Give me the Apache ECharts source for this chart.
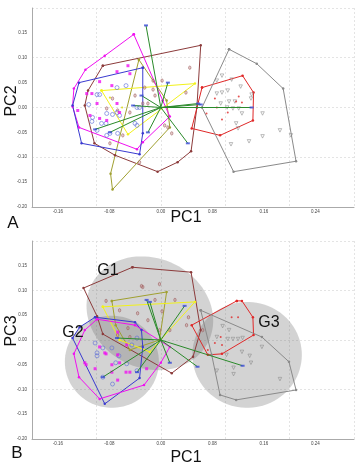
<!DOCTYPE html>
<html><head><meta charset="utf-8">
<script src="https://cdn.jsdelivr.net/npm/echarts@6/dist/echarts.min.js"></script>
<style>html,body{margin:0;padding:0;background:#fff}#c{width:360px;height:476px}</style>
</head><body><div id="c"></div>
<script>
// ---- tick labels ----
const xTicks = [-0.16, -0.08, 0, 0.08, 0.16, 0.24];
const yTicks = [-0.2, -0.15, -0.1, -0.05, 0, 0.05, 0.1, 0.15];
const origin = [0, 0];

// ---- Panel A (PC1 vs PC2): convex hulls ----
const hullA_magenta = [[-0.042,0.147],[0.003,0.014],[0.014,-0.018],[-0.028,-0.070],[-0.037,-0.084],[-0.127,-0.040],[-0.137,0.002],[-0.135,0.038],[-0.117,0.076],[-0.087,0.104]];
const hullA_blue = [[-0.028,0.080],[-0.127,0.050],[-0.137,0.004],[-0.123,-0.072],[-0.033,-0.094],[-0.028,-0.052]];
const hullA_brown = [[-0.090,0.084],[0.062,0.125],[0.056,0.000],[0.047,-0.088],[0.026,-0.110],[-0.005,-0.129],[-0.071,-0.096],[-0.103,-0.072],[-0.118,0.004],[-0.113,0.034]];
const hullA_olive = [[-0.034,0.096],[0.009,0.014],[0.014,-0.040],[-0.075,-0.165],[-0.078,-0.133]];
const hullA_yellow = [[-0.092,0.034],[0.053,0.048],[-0.051,-0.054]];
const hullA_red = [[0.064,0.040],[0.127,0.064],[0.144,0.030],[0.143,-0.026],[0.092,-0.056],[0.048,-0.042]];
const hullA_gray = [[0.106,0.117],[0.149,0.088],[0.190,0.038],[0.210,-0.108],[0.113,-0.129],[0.064,0.000]];

// ---- Panel A: samples ----
const ptsA_magenta = [[-0.068,0.072],[-0.051,0.084],[-0.048,0.068],[-0.095,0.052],[-0.076,0.044],[-0.115,0.028],[-0.107,0.028],[-0.099,0.008],[-0.068,0.008],[-0.129,-0.006],[-0.095,-0.022],[-0.084,-0.026],[-0.064,-0.010],[-0.110,-0.016]];
const ptsA_blue = [[-0.054,0.044],[-0.068,0.040],[-0.099,0.026],[-0.095,0.026],[-0.037,0.000],[-0.106,-0.020],[-0.107,-0.028],[-0.084,-0.012],[-0.075,-0.014],[-0.068,-0.010],[-0.064,-0.016],[-0.092,-0.032],[-0.085,-0.032],[-0.099,-0.046],[-0.079,-0.052],[-0.067,-0.052],[-0.084,-0.056],[-0.040,-0.032],[-0.037,-0.036],[-0.112,0.006],[-0.033,0.000]];
const ptsA_brown = [[0.002,0.054],[-0.012,0.054],[-0.025,0.040],[-0.012,0.036],[-0.075,0.018],[-0.084,-0.002],[-0.067,-0.006],[0.045,0.080],[0.039,0.030],[-0.028,0.008],[-0.020,0.008],[-0.048,-0.010],[-0.059,-0.056],[-0.079,-0.072],[0.011,-0.040],[0.017,-0.052],[0.006,-0.036],[-0.033,-0.110],[-0.009,0.024],[-0.040,0.024]];
const ptsA_gray = [[0.095,0.064],[0.110,0.056],[0.124,0.042],[0.104,0.034],[0.087,0.028],[0.095,0.030],[0.141,0.026],[0.140,0.018],[0.106,0.012],[0.115,0.012],[0.093,0.008],[0.103,0.000],[0.112,-0.002],[0.121,-0.002],[0.126,-0.012],[0.158,-0.012],[0.087,0.054],[0.117,-0.032],[0.120,-0.042],[0.109,-0.074],[0.137,-0.068],[0.158,-0.058],[0.185,-0.046],[0.202,-0.056]];
const ptsA_red = [[0.117,0.012],[0.126,0.010],[0.121,0.022],[0.087,0.000],[0.071,-0.012],[0.095,-0.024],[0.104,-0.010],[0.084,0.018]];
const ptsA_yellow = [[-0.079,0.020],[-0.060,0.000]];
const vecA = [[-0.023,0.165],[0.062,0.006],[0.141,0.000],[-0.102,-0.044],[-0.079,-0.050],[-0.020,-0.050],[0.042,-0.072],[0.058,0.008],[-0.043,0.004],[0.011,0.050],[-0.030,0.024]];

// ---- Panel B (PC1 vs PC3): group ellipses [cx, cy, rx, ry, tilt] ----
const groupNames = ['G1', 'G2', 'G3'];
const ellipseB = [[-0.017,0.054,0.101,0.111,25],[-0.076,-0.044,0.073,0.093,0],[0.134,-0.030,0.085,0.107,0]];
const hullB_brown = [[-0.044,0.147],[0.047,0.137],[0.062,0.020],[0.050,-0.034],[0.017,-0.067],[-0.090,0.012],[-0.099,0.048],[-0.120,0.105]];
const hullB_olive = [[-0.076,0.079],[0.009,0.097],[-0.002,0.000],[-0.048,-0.020],[-0.070,0.030]];
const hullB_yellow = [[-0.090,0.067],[0.053,0.077],[-0.017,-0.024],[-0.064,0.000]];
const hullB_blue = [[-0.102,0.046],[-0.040,0.036],[-0.030,0.020],[-0.028,-0.014],[-0.033,-0.077],[-0.087,-0.129],[-0.137,0.004],[-0.126,0.026]];
const hullB_magenta = [[-0.099,0.042],[-0.040,0.030],[0.014,-0.014],[0.000,-0.046],[-0.026,-0.091],[-0.095,-0.119],[-0.127,-0.075],[-0.135,-0.028],[-0.118,0.020]];
const hullB_red = [[0.118,0.079],[0.126,0.079],[0.143,0.046],[0.144,0.010],[0.095,-0.028],[0.073,-0.030],[0.048,0.030]];
const hullB_gray = [[0.062,0.060],[0.157,0.006],[0.199,-0.044],[0.210,-0.101],[0.117,-0.121],[0.092,-0.111],[0.079,-0.030]];

const ptsB_brown = [[-0.028,0.107],[-0.002,0.113],[-0.085,0.079],[-0.036,0.054],[0.002,0.058],[-0.030,0.109],[-0.020,0.040],[-0.002,0.020],[-0.051,0.024],[0.043,0.046],[0.040,0.030],[0.065,0.020],[-0.067,0.010],[-0.048,0.006],[0.014,0.020],[-0.009,0.081],[0.022,0.081],[-0.064,0.060]];
const ptsB_magenta = [[-0.118,-0.046],[-0.116,-0.050],[-0.102,-0.058],[-0.085,-0.028],[-0.076,-0.065],[-0.054,-0.065],[-0.048,-0.065],[-0.022,-0.058],[-0.095,-0.014],[-0.087,-0.026],[-0.067,-0.030],[-0.076,-0.050],[-0.064,-0.046],[-0.067,-0.081],[-0.053,-0.010],[-0.067,0.016]];
const ptsB_blue = [[-0.099,-0.026],[-0.099,-0.032],[-0.076,-0.016],[-0.065,-0.032],[-0.053,-0.048],[-0.090,-0.075],[-0.075,-0.089],[-0.037,-0.062],[-0.037,0.004],[-0.045,-0.010],[-0.090,-0.016],[-0.070,-0.046],[-0.102,-0.006]];
const ptsB_gray = [[0.096,0.028],[0.106,0.020],[0.087,0.006],[0.104,0.002],[0.112,0.002],[0.120,0.002],[0.127,0.004],[0.157,-0.014],[0.102,-0.030],[0.126,-0.024],[0.138,-0.032],[0.140,-0.046],[0.087,-0.062],[0.113,-0.056],[0.113,-0.069],[0.185,-0.079]];
const ptsB_red = [[0.110,0.046],[0.120,0.046],[0.093,0.006],[0.095,-0.010],[0.073,-0.020],[0.084,-0.006]];
const vecB = [[-0.090,-0.075],[-0.068,0.004],[-0.037,-0.065],[0.014,-0.046],[0.127,-0.052],[0.057,-0.054],[0.037,0.069],[-0.017,0.077],[-0.022,0.081]];

// ---- styles ----
const C = {magenta:'#f010f0', blue:'#3a3ad0', brown:'#8c3b3b', olive:'#a0a030', yellow:'#f2f21a', red:'#e02828', gray:'#8a8a8a', green:'#2a8a2a', vlabel:'#3a4ad8'};
const FONT = 'Liberation Sans, Arial, sans-serif';

function closed(a){ return a.concat([a[0]]); }
function hull(data, color, g){
  return {type:'line', xAxisIndex:g, yAxisIndex:g, data:closed(data), symbol:'circle', symbolSize:2.5,
    itemStyle:{color:color}, lineStyle:{color:color, width:1}, z:3, silent:true, animation:false};
}
function pts(data, g, kind){
  const s = {type:'scatter', xAxisIndex:g, yAxisIndex:g, data:data, z:4, silent:true, animation:false};
  if(kind==='magenta'){ s.symbol='rect'; s.symbolSize=3; s.itemStyle={color:C.magenta}; }
  if(kind==='blue'){ s.symbol='circle'; s.symbolSize=4; s.itemStyle={color:'rgba(255,255,255,0)', borderColor:'#6070d8', borderWidth:0.8}; }
  if(kind==='brown'){ s.symbol='circle'; s.symbolSize=[2.4,3.4]; s.itemStyle={color:'rgba(200,140,140,0.5)', borderColor:'#9a5a5a', borderWidth:0.7}; }
  if(kind==='gray'){ s.symbol='triangle'; s.symbolRotate=180; s.symbolSize=3.5; s.itemStyle={color:'rgba(255,255,255,0)', borderColor:'#888', borderWidth:0.7}; }
  if(kind==='red'){ s.symbol='circle'; s.symbolSize=2; s.itemStyle={color:C.red}; }
  if(kind==='yellow'){ s.symbol='circle'; s.symbolSize=2.2; s.itemStyle={color:'#d8d800'}; }
  return s;
}
function vectors(vs, g){
  return [{type:'lines', coordinateSystem:'cartesian2d', xAxisIndex:g, yAxisIndex:g, z:5, silent:true, animation:false,
    data: vs.map(v=>({coords:[origin, v]})), lineStyle:{color:C.green, width:1, opacity:1}},
    {type:'scatter', xAxisIndex:g, yAxisIndex:g, data:vs, symbol:'rect', symbolSize:[4,2], z:6, silent:true, animation:false,
    itemStyle:{color:C.vlabel}}];
}
function ellipses(g){
  return {type:'custom', xAxisIndex:g, yAxisIndex:g, z:1, silent:true, animation:false, data:ellipseB,
    encode:{x:0,y:1},
    renderItem:function(params, api){
      const c = api.coord([api.value(0), api.value(1)]);
      const s = api.size([api.value(2), api.value(3)]);
      const t = api.value(4)*Math.PI/180, a=s[0], b=s[1];
      const P=[];
      for(let i=0;i<90;i++){
        const u=i/90*2*Math.PI, ex=a*Math.cos(u), ey=b*Math.sin(u);
        P.push([c[0]+ex*Math.cos(t)-ey*Math.sin(t), c[1]+ex*Math.sin(t)+ey*Math.cos(t)]);
      }
      return {type:'polygon', shape:{points:P}, style:{fill:'rgba(110,110,110,0.3)', stroke:null}};
    }};
}
function xAx(g){
  return {type:'value', gridIndex:g, min:-0.2, max:0.3, interval:0.1,
    axisLine:{show:true, onZero:false, lineStyle:{color:'#aaa', width:1}},
    axisTick:{show:false},
    splitLine:{show:true, lineStyle:{color:'#ddd', width:0.8, type:[2,2]}},
    axisLabel:{customValues:xTicks, formatter:v=>v.toFixed(2), fontSize:4.5, color:'#444', margin:2, fontFamily:FONT}};
}
function yAx(g){
  return {type:'value', gridIndex:g, min:-0.2, max:0.2, interval:0.1,
    axisLine:{show:true, onZero:false, lineStyle:{color:'#aaa', width:1}},
    axisTick:{show:false},
    splitLine:{show:true, lineStyle:{color:'#ddd', width:0.8, type:[2,2]}},
    axisLabel:{customValues:yTicks, formatter:v=>v.toFixed(2), fontSize:4.5, color:'#444', margin:5, fontFamily:FONT}};
}
function txt(s, x, y, size, rot){
  return {type:'text', x:x, y:y, rotation:rot||0, z:10,
    style:{text:s, font:size+'px '+FONT, fill:'#111', align:'center', verticalAlign:'middle'}};
}

const series = [
  hull(hullA_brown,C.brown,0), hull(hullA_olive,C.olive,0), hull(hullA_yellow,C.yellow,0),
  hull(hullA_magenta,C.magenta,0), hull(hullA_blue,C.blue,0), hull(hullA_red,C.red,0), hull(hullA_gray,C.gray,0),
  pts(ptsA_brown,0,'brown'), pts(ptsA_gray,0,'gray'), pts(ptsA_red,0,'red'), pts(ptsA_yellow,0,'yellow'),
  pts(ptsA_blue,0,'blue'), pts(ptsA_magenta,0,'magenta'),
  ...vectors(vecA,0),
  ellipses(1),
  hull(hullB_brown,C.brown,1), hull(hullB_olive,C.olive,1), hull(hullB_yellow,C.yellow,1),
  hull(hullB_blue,C.blue,1), hull(hullB_magenta,C.magenta,1), hull(hullB_red,C.red,1), hull(hullB_gray,C.gray,1),
  pts(ptsB_brown,1,'brown'), pts(ptsB_gray,1,'gray'), pts(ptsB_red,1,'red'),
  pts(ptsB_blue,1,'blue'), pts(ptsB_magenta,1,'magenta'),
  ...vectors(vecB,1)
];

const chart = echarts.init(document.getElementById('c'), null, {renderer:'canvas'});
chart.setOption({
  animation:false,
  backgroundColor:'#fff',
  grid:[{left:32, top:8, width:322, height:199}, {left:32, top:241, width:322, height:198}],
  xAxis:[xAx(0), xAx(1)],
  yAxis:[yAx(0), yAx(1)],
  series: series,
  graphic:[
    txt('PC2', 12, 101, 16, Math.PI/2),
    txt('PC1', 186, 218, 16),
    txt('A', 13, 223, 17),
    txt('PC3', 12, 331, 16, Math.PI/2),
    txt('PC1', 186, 458, 16),
    txt('B', 17, 453, 17),
    txt(groupNames[0], 108, 271, 16),
    txt(groupNames[1], 73, 333, 16),
    txt(groupNames[2], 269, 323, 16)
  ]
});
</script></body></html>
